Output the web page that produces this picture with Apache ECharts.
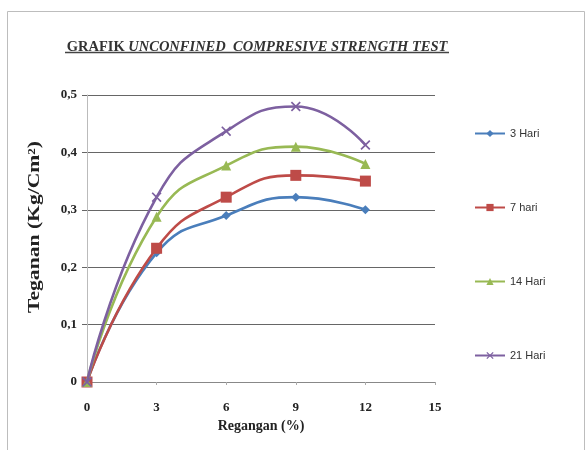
<!DOCTYPE html>
<html>
<head>
<meta charset="utf-8">
<script src="https://cdn.jsdelivr.net/npm/echarts@6/dist/echarts.min.js"></script>
<style>html,body{margin:0;padding:0;background:#fff;}#c{width:587px;height:450px;}</style>
</head>
<body>
<div id="c"></div>
<script>
const xValues = [0, 3, 6, 9, 12];
const seriesNames = ['3 Hari', '7 hari', '14 Hari', '21 Hari'];
const hari3 = [0, 0.225, 0.29, 0.322, 0.30];
const hari7 = [0, 0.233, 0.322, 0.36, 0.35];
const hari14 = [0, 0.288, 0.377, 0.41, 0.38];
const hari21 = [0, 0.322, 0.437, 0.48, 0.413];
const xTicks = [0, 3, 6, 9, 12, 15];
const yTicks = [0, 0.1, 0.2, 0.3, 0.4, 0.5];

const colors = ['#4A7EBB', '#BE4B48', '#98B954', '#7D60A0'];
const xSym = 'path://M0,1.2L1.2,0L5,3.8L8.8,0L10,1.2L6.2,5L10,8.8L8.8,10L5,6.2L1.2,10L0,8.8L3.8,5Z';
const symbols = ['diamond', 'rect', 'triangle', xSym];
const sizes = [9, 11, 10, 10];
const allData = [hari3, hari7, hari14, hari21];

const chart = echarts.init(document.getElementById('c'), null, {renderer: 'canvas'});
const serif = 'Liberation Serif';

const series = allData.map((vals, i) => ({
  name: seriesNames[i],
  type: 'line',
  smooth: 0.5,
  data: vals.map((v, j) => [xValues[j], v]),
  symbol: symbols[i],
  symbolSize: sizes[i],
  lineStyle: {width: 2.6, color: colors[i]},
  itemStyle: {color: colors[i]},
  z: 2 + i
}));

chart.setOption({
  animation: false,
  backgroundColor: '#fff',
  color: colors,
  title: {
    text: '{a|GRAFIK }{b|UNCONFINED  COMPRESIVE STRENGTH TEST}',
    left: 252, top: 35, textAlign: 'center',
    textStyle: {
      rich: {
        a: {fontFamily: serif, fontWeight: 'bold', fontSize: 14.5, color: '#333'},
        b: {fontFamily: serif, fontWeight: 'bold', fontStyle: 'italic', fontSize: 14.5, color: '#333'}
      }
    }
  },
  graphic: [
    {type: 'rect', shape: {x: 7.5, y: 11.5, width: 577, height: 460}, style: {fill: 'none', stroke: '#bdbdbd', lineWidth: 1}, silent: true, z: -1},
    {type: 'line', shape: {x1: 65, y1: 52.5, x2: 449, y2: 52.5}, style: {stroke: '#444', lineWidth: 1.3}, silent: true},
    {type: 'text', x: 35, y: 227, rotation: Math.PI / 2, scaleX: 1.35, scaleY: 1,
      style: {text: 'Teganan (Kg/Cm²)', fontFamily: serif, fontWeight: 'bold', fontSize: 16, fill: '#222', align: 'center', verticalAlign: 'middle'}}
  ],
  legend: {
    orient: 'vertical',
    left: 469, top: 123,
    itemGap: 63,
    itemWidth: 30, itemHeight: 9,
    data: seriesNames,
    textStyle: {fontFamily: 'Liberation Sans', fontSize: 11, color: '#333'}
  },
  grid: {left: 87, right: 152, top: 95, bottom: 68},
  xAxis: {
    type: 'value', min: 0, max: 15, interval: 3,
    name: 'Regangan (%)', nameLocation: 'middle', nameGap: 34,
    nameTextStyle: {fontFamily: serif, fontWeight: 'bold', fontSize: 14, color: '#222'},
    axisLine: {lineStyle: {color: '#888', width: 1}},
    axisTick: {show: true, length: 3, lineStyle: {color: '#aaa'}},
    axisLabel: {fontFamily: serif, fontWeight: 'bold', fontSize: 13, color: '#222', margin: 19},
    splitLine: {show: false}
  },
  yAxis: {
    type: 'value', min: 0, max: 0.5, interval: 0.1,
    axisLine: {show: true, lineStyle: {color: '#bbb', width: 1}},
    axisTick: {show: true, length: 5, lineStyle: {color: '#666'}},
    axisLabel: {fontFamily: serif, fontWeight: 'bold', fontSize: 13, color: '#222', margin: 10,
      formatter: v => (Math.round(v * 10) / 10).toString().replace('.', ',')},
    splitLine: {show: true, lineStyle: {color: '#666', width: 1}}
  },
  series: series
});
</script>
</body>
</html>
